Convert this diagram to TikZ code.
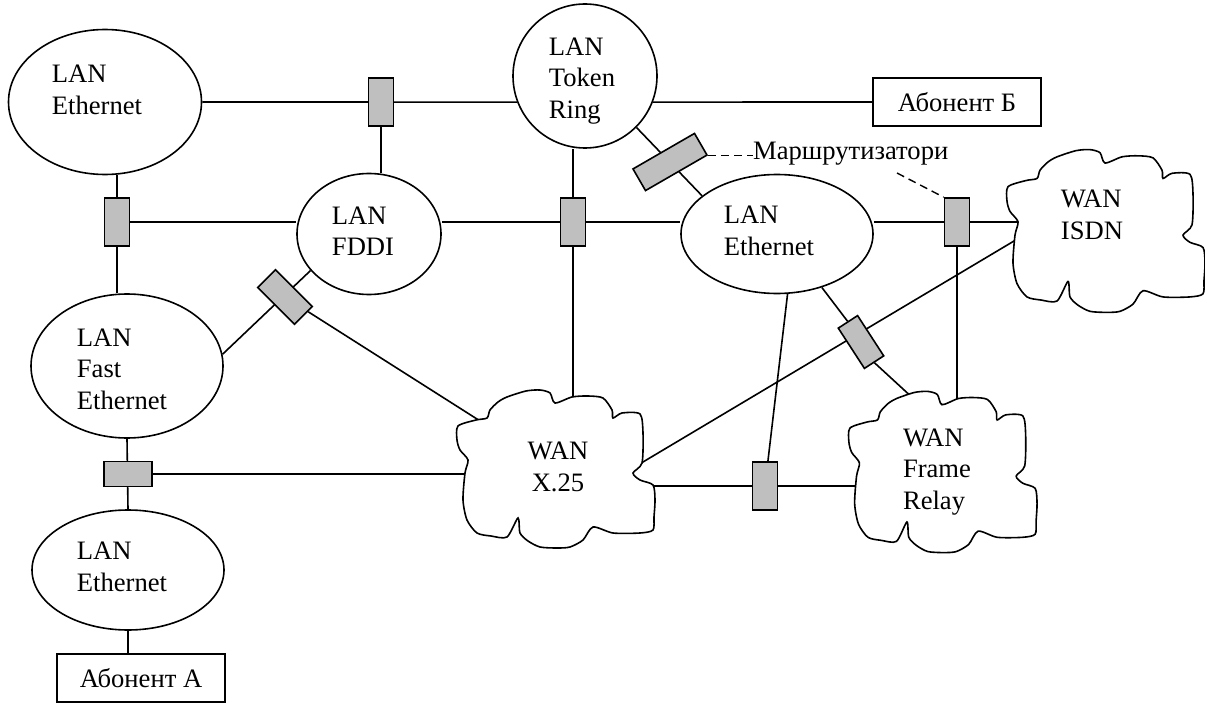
\documentclass[tikz,border=0pt]{standalone}
\usepackage{fontspec}
\setmainfont{Liberation Serif}
\usetikzlibrary{shapes,backgrounds,calc}

\newcommand{\netfont}{\fontsize{26.6}{31.5}\selectfont}
\newcommand{\wancloud}[2]{%
  \draw[line width=1.6pt,fill=white,shift={#1},#2] plot[smooth cycle,tension=0.45] coordinates {
    (-98,-43) (-80,-49) (-69,-51) (-66,-59) (-58,-67) (-49,-72) (-30,-78) (-16,-79) (-6,-76) (-1,-66)
    (16,-72) (32,-73) (47,-71) (56,-59) (57,-51) (66,-56) (84,-55) (87,-36) (86,-6) (77,4)
    (84,11) (97,16) (99,31) (98,48) (97,61) (84,64) (57,64) (37,58) (27,71) (14,78)
    (1,79) (-16,78) (-28,72) (-36,64) (-38,49) (-49,68) (-65,67) (-79,64) (-89,51) (-93,31)
    (-91,4) (-88,-9) (-96,-19) (-99,-29)};}

\tikzset{
  lan/.style={draw,ellipse,fill=white,line width=1.6pt,inner sep=0pt},
  nettext/.style={align=left,font=\netfont,inner sep=0pt},
  router/.style={draw,fill=black!25,line width=1.6pt,minimum width=25pt,minimum height=48pt,inner sep=0pt},
  abonent/.style={draw,fill=white,line width=1.6pt,minimum width=168pt,minimum height=48pt,font=\netfont},
  wan/.style={minimum width=150pt,minimum height=110pt,inner sep=0pt},
  link/.style={line width=1.6pt},
  callout/.style={line width=1.4pt,dash pattern=on 8pt off 5pt},
}

\begin{document}
\begin{tikzpicture}[x=1pt,y=-1pt]
	\useasboundingbox (0,0) rectangle (1205,706);
	% local networks
	\node[lan,minimum width=193pt,minimum height=145pt,label={[nettext,xshift=-8pt,yshift=12pt]center:LAN\\Ethernet}] (lanA) at (105,102) {};
	\node[lan,circle,minimum size=144pt,label={[nettext,xshift=-3pt,yshift=-5pt]center:LAN\\Token\\Ring}] (tr) at (585,76) {};
	\node[lan,minimum width=144pt,minimum height=121pt,label={[nettext,xshift=-6pt,yshift=3pt]center:LAN\\FDDI}] (fddi) at (369,234) {};
	\node[lan,minimum width=192pt,minimum height=119pt,label={[nettext,xshift=-8pt,yshift=3pt]center:LAN\\Ethernet}] (lanE) at (777,234) {};
	\node[lan,minimum width=192pt,minimum height=144pt,label={[nettext,xshift=-5pt,yshift=-3pt]center:LAN\\Fast\\Ethernet}] (fastE) at (127,366) {};
	\node[lan,minimum width=192pt,minimum height=120pt,label={[nettext,xshift=-6pt,yshift=3pt]center:LAN\\Ethernet}] (botE) at (128,570) {};
	% global networks
	\wancloud{(556,469)}{}
	\node[wan,label={[nettext,align=center,xshift=2pt,yshift=2pt]center:WAN\\X.25}] (x25) at (556,469) {};
	\wancloud{(943,472)}{xscale=0.95,yscale=1.02}
	\node[wan,label={[nettext,xshift=-6pt]center:WAN\\Frame\\Relay}] (fr) at (943,472) {};
	\wancloud{(1106,231)}{yscale=1.03}
	\node[wan,label={[nettext,xshift=-14pt,yshift=16pt]center:WAN\\ISDN}] (isdn) at (1106,231) {};
	% subscribers
	\node[abonent] (abA) at (141,678) {Абонент А};
	\node[abonent] (abB) at (957,102) {Абонент Б};
	% routers
	\node[router] (r1) at (381,102) {};
	\node[router] (r2) at (117,222) {};
	\node[router,rotate=90] (r3) at (128,474) {};
	\node[router,minimum height=52pt,rotate=45] (r4) at (285,297) {};
	\node[router] (r5) at (573,222) {};
	\node[router,minimum width=71pt,minimum height=25pt,rotate=30] (r6) at (670,162) {};
	\node[router] (r7) at (957,222) {};
	\node[router,minimum width=23pt,rotate=33] (r8) at (861,342) {};
	\node[router] (r9) at (765,486) {};
	\node[font=\netfont,anchor=base west,inner sep=0pt] (marsh) at (753,160) {Маршрутизатори};
	% links
	\begin{scope}[on background layer]
		\draw[link] (lanA.east) -- (tr.201);
		\draw[link] (tr.-21) -- (abB.west);
		\draw[link] (r1) -- (r1 |- fddi.north);
		\draw[link] (lanA.south -| r2) -- (r2 |- fastE.north);
		\draw[link] (r2) -- (r2 -| fddi.west);
		\draw[link] (r5 -| fddi.east) -- (r5 -| lanE.west);
		\draw[link] (tr.south -| r5) -- (r5 |- x25);
		\draw[link] (tr.-45) -- (lanE.153);
		\draw[link] (r7 -| lanE.east) -- (r7 -| isdn);
		\draw[link] (r7) -- (r7 |- fr);
		\draw[link] (fddi.212) -- (fastE.7);
		\draw[link] (r4) -- (x25);
		\draw[link] (r3) -- (r3 -| x25);
		\draw[link] (fastE.south) -- (botE.north);
		\draw[link] (botE.south) -- (botE.south |- abA.north);
		\draw[link] (r9 -| x25) -- (r9 -| fr);
		\draw[link] (r9) -- (lanE.-80);
		\draw[link] (lanE.-50) -- (r8.north);
		\draw[link] (r8.south) -- (fr.100);
		\draw[link] (x25.east) -- (isdn.west);
	\end{scope}
	% callouts
	\draw[callout] (r6.south east) -- (r6.south east -| marsh.west);
	\coordinate (marshend) at (897,173);
	\draw[callout] (marshend) -- (r7.north west);
\end{tikzpicture}
\end{document}
